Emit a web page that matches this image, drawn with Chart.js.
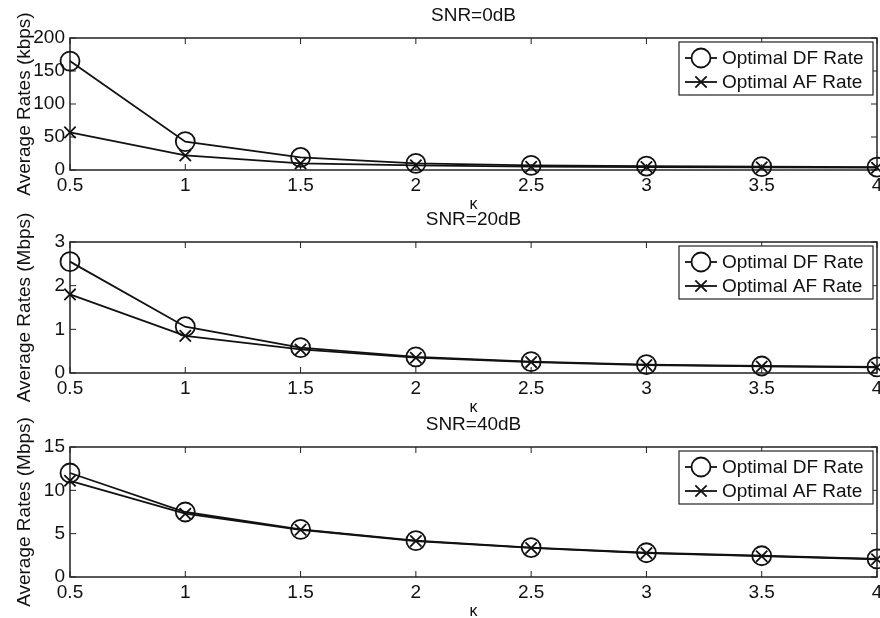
<!DOCTYPE html>
<html><head><meta charset="utf-8">
<script src="https://cdn.jsdelivr.net/npm/chart.js@4.4.0/dist/chart.umd.min.js"></script>
<style>
html,body{margin:0;padding:0;background:#fff;}
#wrap{position:relative;width:880px;height:618px;background:#fff;}
#wrap canvas{position:absolute;left:0;top:0;}
</style></head><body>
<div id="wrap">
<canvas id="c1" width="880" height="618"></canvas>
<canvas id="c2" width="880" height="618"></canvas>
<canvas id="c3" width="880" height="618"></canvas>
</div>
<script>
// ---- data ----
const kappa = [0.5, 1, 1.5, 2, 2.5, 3, 3.5, 4];
const xTickLabels = ['0.5', '1', '1.5', '2', '2.5', '3', '3.5', '4'];
const seriesNames = ['Optimal DF Rate', 'Optimal AF Rate'];
const panelTitles = ['SNR=0dB', 'SNR=20dB', 'SNR=40dB'];
const yTitles = ['Average Rates (kbps)', 'Average Rates (Mbps)', 'Average Rates (Mbps)'];
const xTitle = 'κ';

const df0 = [165, 43, 19, 10, 7, 6, 5, 4.5];
const af0 = [57, 22, 10, 7, 5, 4.5, 4, 3.5];
const yTicks0 = [0, 50, 100, 150, 200];

const df20 = [2.55, 1.06, 0.58, 0.37, 0.26, 0.19, 0.16, 0.14];
const af20 = [1.8, 0.85, 0.54, 0.35, 0.25, 0.18, 0.15, 0.13];
const yTicks20 = [0, 1, 2, 3];

const df40 = [12.0, 7.5, 5.5, 4.2, 3.4, 2.8, 2.45, 2.1];
const af40 = [11.1, 7.3, 5.45, 4.15, 3.35, 2.75, 2.4, 2.05];
const yTicks40 = [0, 5, 10, 15];

// ---- styling / layout ----
const FONT = '"Liberation Sans", Arial, Helvetica, sans-serif';
const INK = '#111';
const W = 880, H = 618;

const boxPlugin = {
  id: 'matlabBox',
  beforeDatasetsDraw(chart) {
    const {ctx, chartArea: a, scales: {x, y}} = chart;
    ctx.save();
    ctx.strokeStyle = '#222';
    ctx.lineWidth = 1.5;
    ctx.strokeRect(a.left, a.top, a.right - a.left, a.bottom - a.top);
    ctx.lineWidth = 1;
    ctx.beginPath();
    x.ticks.forEach(t => {
      const px = x.getPixelForValue(t.value);
      ctx.moveTo(px, a.bottom); ctx.lineTo(px, a.bottom - 6);
      ctx.moveTo(px, a.top); ctx.lineTo(px, a.top + 6);
    });
    y.ticks.forEach(t => {
      const py = y.getPixelForValue(t.value);
      ctx.moveTo(a.left, py); ctx.lineTo(a.left + 6, py);
      ctx.moveTo(a.right, py); ctx.lineTo(a.right - 6, py);
    });
    ctx.stroke();
    ctx.restore();
  },
  afterDatasetsDraw(chart) {
    const {ctx, chartArea: a} = chart;
    const bx = a.right - 198, by = a.top + 4, bw = 194, bh = 53;
    ctx.save();
    ctx.fillStyle = '#fff';
    ctx.fillRect(bx, by, bw, bh);
    ctx.strokeStyle = '#222';
    ctx.lineWidth = 1.2;
    ctx.strokeRect(bx, by, bw, bh);
    chart.data.datasets.forEach((ds, i) => {
      const cy = by + 16 + i * 24;
      ctx.strokeStyle = INK;
      ctx.lineWidth = 1.8;
      ctx.beginPath();
      ctx.moveTo(bx + 6, cy); ctx.lineTo(bx + 38, cy);
      ctx.stroke();
      Chart.helpers.drawPoint(ctx, {pointStyle: ds.pointStyle, radius: ds.pointRadius, borderWidth: ds.pointBorderWidth, rotation: 0}, bx + 22, cy);
      ctx.fillStyle = INK;
      ctx.font = '19px ' + FONT;
      ctx.textBaseline = 'middle';
      ctx.textAlign = 'left';
      ctx.fillText(ds.label, bx + 43, cy + 1);
    });
    ctx.restore();
  }
};

function makePanel(id, df, af, yTicks, title, yTitle, areaTop, areaBottom) {
  const mk = (vals) => kappa.map((k, i) => ({x: k, y: vals[i]}));
  const common = {borderColor: INK, backgroundColor: 'transparent', borderWidth: 1.8,
    pointBorderColor: INK, pointBackgroundColor: 'transparent', clip: false, tension: 0};
  new Chart(document.getElementById(id), {
    type: 'line',
    data: {
      datasets: [
        Object.assign({label: seriesNames[0], data: mk(df), pointStyle: 'circle', pointRadius: 9.5, pointBorderWidth: 1.8}, common),
        Object.assign({label: seriesNames[1], data: mk(af), pointStyle: 'crossRot', pointRadius: 8, pointBorderWidth: 1.8}, common)
      ]
    },
    options: {
      responsive: false, animation: false, devicePixelRatio: 1,
      layout: {autoPadding: false, padding: {left: 0, right: 3, top: areaTop - 38, bottom: H - areaBottom - 45}},
      plugins: {legend: {display: false}, tooltip: {enabled: false}, title: {display: false}},
      scales: {
        x: {
          type: 'linear', position: 'bottom', min: kappa[0], max: kappa[kappa.length - 1],
          grid: {display: false, drawTicks: false}, border: {display: false},
          afterBuildTicks: s => { s.ticks = kappa.map(v => ({value: v})); },
          ticks: {color: INK, font: {family: FONT, size: 19}, padding: 4, maxRotation: 0, autoSkip: false,
            callback: (v, i) => xTickLabels[i]},
          title: {display: true, text: xTitle, color: INK, font: {family: FONT, size: 16}, padding: {top: 0, bottom: 1}},
          afterFit: s => { s.height = 45; s.paddingLeft = 0; s.paddingRight = 0; }
        },
        xTop: {
          type: 'linear', position: 'top', min: kappa[0], max: kappa[kappa.length - 1],
          grid: {display: false, drawTicks: false}, border: {display: false}, ticks: {display: false},
          title: {display: true, text: title, color: INK, font: {family: FONT, size: 19}, padding: {top: 4, bottom: 0}},
          afterFit: s => { s.height = 38; s.paddingLeft = 0; s.paddingRight = 0; }
        },
        y: {
          type: 'linear', position: 'left', min: yTicks[0], max: yTicks[yTicks.length - 1],
          grid: {display: false, drawTicks: false}, border: {display: false},
          afterBuildTicks: s => { s.ticks = yTicks.map(v => ({value: v})); },
          ticks: {color: INK, font: {family: FONT, size: 19}, padding: 5},
          title: {display: true, text: yTitle, color: INK, font: {family: FONT, size: 19}, padding: {top: 13, bottom: 0}},
          afterFit: s => { s.width = 70; s.paddingTop = 0; s.paddingBottom = 0; }
        }
      }
    },
    plugins: [boxPlugin]
  });
}

makePanel('c1', df0, af0, yTicks0, panelTitles[0], yTitles[0], 38, 170);
makePanel('c2', df20, af20, yTicks20, panelTitles[1], yTitles[1], 242, 373);
makePanel('c3', df40, af40, yTicks40, panelTitles[2], yTitles[2], 447, 577);
</script>
</body></html>
